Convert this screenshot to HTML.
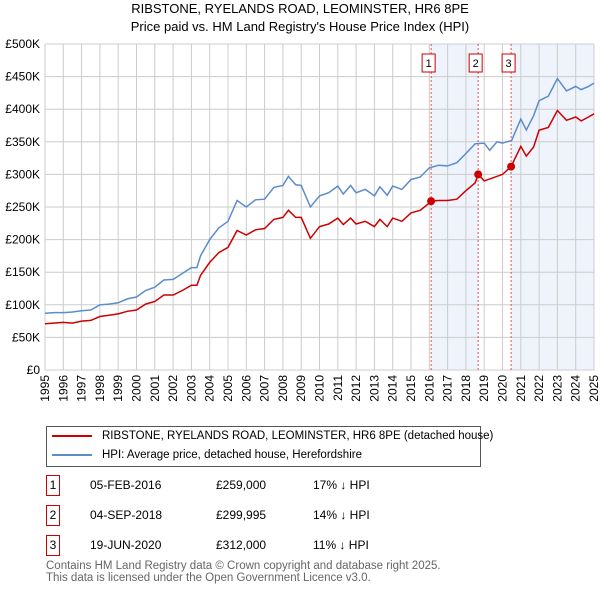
<!DOCTYPE html>
<html><head><meta charset="utf-8"><style>
body{margin:0;width:600px;height:590px;background:#fff;font-family:"Liberation Sans","DejaVu Sans",sans-serif;overflow:hidden;position:relative}
.t{position:absolute;font-size:12px;color:#000}
</style></head><body>
<div style="position:absolute;top:0;width:600px;text-align:center;font-size:13px;line-height:18px">RIBSTONE, RYELANDS ROAD, LEOMINSTER, HR6 8PE<br>Price paid vs. HM Land Registry's House Price Index (HPI)</div>
<svg id="ch" width="600" height="420" style="position:absolute;left:0;top:0" font-family="Liberation Sans, DejaVu Sans, sans-serif" font-size="12"></svg>
<div style="position:absolute;left:46px;top:426px;width:435px;height:41px;border:1px solid #555;box-sizing:border-box">
<div style="position:absolute;left:5px;top:3px;font-size:11.5px;white-space:nowrap"><span style="display:inline-block;width:40px;height:2px;background:#cc0000;vertical-align:middle;margin-right:10px"></span>RIBSTONE, RYELANDS ROAD, LEOMINSTER, HR6 8PE (detached house)</div>
<div style="position:absolute;left:5px;top:22px;font-size:11.5px;white-space:nowrap"><span style="display:inline-block;width:40px;height:2px;background:#5b8ccc;vertical-align:middle;margin-right:10px"></span>HPI: Average price, detached house, Herefordshire</div>
</div>
<div id="tbl"></div>
<div style="position:absolute;left:46px;top:560px;font-size:11.5px;color:#666;line-height:12px">Contains HM Land Registry data © Crown copyright and database right 2025.<br>This data is licensed under the Open Government Licence v3.0.</div>
<script>
const hpiX=[1995,1995.5,1996,1996.5,1997,1997.5,1998,1998.5,1999,1999.5,2000,2000.5,2001,2001.5,2002,2002.5,2003,2003.3,2003.5,2004,2004.5,2005,2005.5,2006,2006.5,2007,2007.5,2008,2008.3,2008.7,2009,2009.5,2010,2010.5,2011,2011.3,2011.7,2012,2012.5,2013,2013.3,2013.7,2014,2014.5,2015,2015.5,2016,2016.5,2017,2017.5,2018,2018.5,2019,2019.3,2019.7,2020,2020.5,2021,2021.3,2021.7,2022,2022.5,2023,2023.5,2024,2024.3,2024.7,2025];
const hpiY=[87,88,88,89,91,92,100,101,103,109,112,122,127,138,139,148,157,157,175,200,218,228,260,250,261,262,280,283,297,284,283,250,267,272,282,270,283,272,277,267,281,268,282,277,292,296,310,314,313,318,332,347,348,337,350,348,352,385,368,390,413,420,447,428,435,430,435,440];
const ppX=[1995,1996,1996.5,1997,1997.5,1998,1998.5,1999,1999.5,2000,2000.5,2001,2001.5,2002,2002.5,2003,2003.3,2003.5,2004,2004.5,2005,2005.5,2006,2006.5,2007,2007.5,2008,2008.3,2008.7,2009,2009.5,2010,2010.5,2011,2011.3,2011.7,2012,2012.5,2013,2013.3,2013.7,2014,2014.5,2015,2015.5,2016,2016.1,2016.5,2017,2017.5,2018,2018.5,2018.67,2019,2019.5,2020,2020.47,2021,2021.3,2021.7,2022,2022.5,2023,2023.5,2024,2024.3,2024.7,2025];
const ppY=[71,73,72,75,76,82,84,86,90,92,101,105,115,115,122,130,130,145,165,180,188,214,207,215,217,231,234,245,234,234,202,220,224,233,223,233,224,228,220,231,220,233,228,241,245,256,259,260,260,262,275,287,300,290,295,300,312,343,328,342,368,372,398,383,388,382,388,393];
const saleX=[2016.1,2018.67,2020.47];
const saleY=[259,300,312];
const saleDates=["05-FEB-2016","04-SEP-2018","19-JUN-2020"];
const salePrices=["£259,000","£299,995","£312,000"];
const saleDiff=["17% ↓ HPI","14% ↓ HPI","11% ↓ HPI"];
const yTicks=[0,50,100,150,200,250,300,350,400,450,500];
const yLabels=["£0","£50K","£100K","£150K","£200K","£250K","£300K","£350K","£400K","£450K","£500K"];
const x0=45,x1=594,y0=370,y1=44;
const sx=v=>x0+(v-1995)/30*(x1-x0);
const sy=v=>y0-v/500*(y0-y1);
const svg=document.getElementById('ch');const NS='http://www.w3.org/2000/svg';
function mk(t,a,p){const e=document.createElementNS(NS,t);for(const k in a)e.setAttribute(k,a[k]);(p||svg).appendChild(e);return e;}
let e;
e=mk('rect',{x:sx(saleX[0]),y:y1,width:sx(saleX[1])-sx(saleX[0]),height:y0-y1,fill:'#eef3fc'});


e=mk('rect',{x:sx(saleX[2]),y:y1,width:x1-sx(saleX[2]),height:y0-y1,fill:'#eef3fc'});


yTicks.forEach((v,i)=>{
 e=mk('line',{x1:x0,x2:x1,y1:sy(v),y2:sy(v),stroke:'#cccccc'});
 
 
 e=mk('text',{x:x0-5,y:sy(v)+4,'text-anchor':'end',fill:'#000'});e.textContent=yLabels[i];
 
 
});
for(let yr=1995;yr<=2025;yr++){
 e=mk('line',{x1:sx(yr),x2:sx(yr),y1:y1,y2:y0,stroke:'#cccccc'});
 
 
 e=mk('text',{x:0,y:0,'text-anchor':'end',transform:`translate(${sx(yr)+4},${y0+5}) rotate(-90)`});e.textContent=yr;
 
 
}
saleX.forEach((v,i)=>{
 e=mk('line',{x1:sx(v),x2:sx(v),y1:y1,y2:y0,stroke:'#e05050','stroke-dasharray':'2,2'});
 
 
 e=mk('rect',{x:sx(v)-9,y:54,width:13,height:18,fill:'#fff',stroke:'#cc0000'});
 
 
 e=mk('text',{x:sx(v)-2.5,y:67,'text-anchor':'middle','font-size':11});e.textContent=i+1;
 
 
});
const pts=(X,Y)=>X.map((v,i)=>sx(v).toFixed(1)+','+sy(Y[i]).toFixed(1)).join(' ');
e=mk('polyline',{points:pts(hpiX,hpiY),fill:'none',stroke:'#5b8ccc','stroke-width':1.5});


e=mk('polyline',{points:pts(ppX,ppY),fill:'none',stroke:'#cc0000','stroke-width':1.5});


saleX.forEach((v,i)=>{
 e=mk('circle',{cx:sx(v),cy:sy(saleY[i]),r:4,fill:'#cc0000'});
 
 
});
const tb=document.getElementById('tbl');
saleX.forEach((v,i)=>{
 const top=475+i*30;
 const r=document.createElement('div');
 
 
 r.innerHTML=`<div class="t" style="left:46px;top:${top}px;width:12px;height:19px;border:1px solid #cc0000;text-align:center;line-height:19px">${i+1}</div><div class="t" style="left:90px;top:${top+3}px">${saleDates[i]}</div><div class="t" style="left:216px;top:${top+3}px">${salePrices[i]}</div><div class="t" style="left:313px;top:${top+3}px">${saleDiff[i]}</div>`;
 tb.appendChild(r);
});
</script>
</body></html>
